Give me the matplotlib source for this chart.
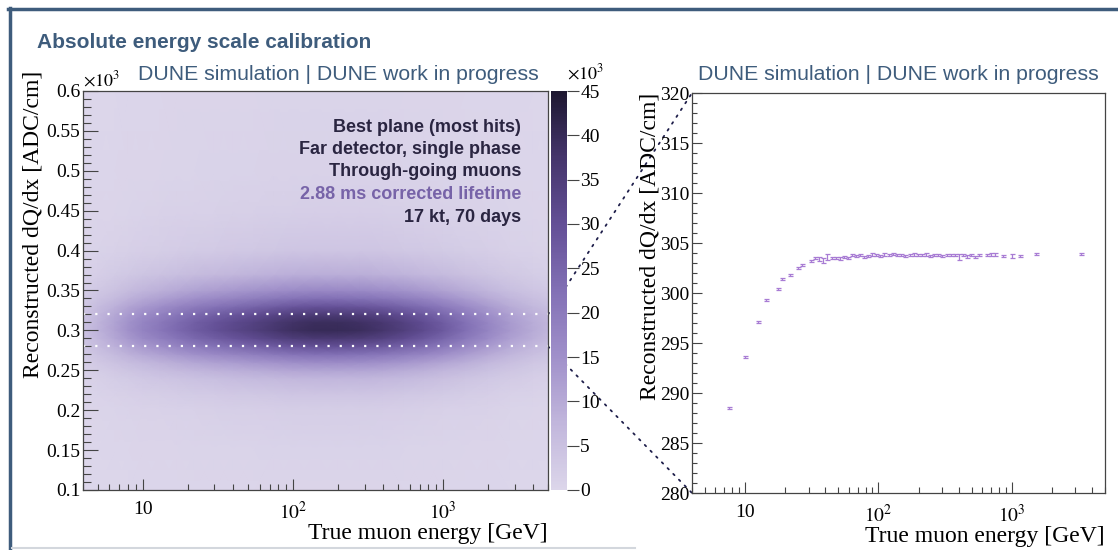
import numpy as np
import matplotlib
matplotlib.use('Agg')
import matplotlib.pyplot as plt
from matplotlib.colors import LinearSegmentedColormap
from matplotlib.patches import ConnectionPatch
from matplotlib.lines import Line2D
from matplotlib import ticker

plt.rcParams['font.family'] = ['Liberation Serif', 'DejaVu Serif']
plt.rcParams['mathtext.fontset'] = 'stix'

# left panel: 2D histogram, read as energy and dQ/dx shapes
energy_nodes = [4, 5, 6.5, 8, 10, 13, 17, 22, 30, 40, 55, 75, 100, 140, 200,
                280, 400, 550, 750, 1000, 1400, 2000, 2800, 4000, 5000]
energy_weight = [0.12, 0.20, 0.29, 0.37, 0.45, 0.52, 0.60, 0.67, 0.74, 0.80,
                 0.86, 0.92, 0.97, 1.00, 1.00, 0.98, 0.93, 0.86, 0.78, 0.69,
                 0.57, 0.44, 0.33, 0.24, 0.19]
dqdx_nodes = [0.10, 0.15, 0.20, 0.22, 0.24, 0.25, 0.26, 0.27, 0.28, 0.29, 0.30,
              0.31, 0.32, 0.33, 0.34, 0.35, 0.37, 0.40, 0.45, 0.50, 0.60]
dqdx_weight = [0.01, 0.02, 0.05, 0.10, 0.19, 0.28, 0.40, 0.56, 0.74, 0.90, 1.00,
               0.98, 0.88, 0.73, 0.56, 0.42, 0.23, 0.10, 0.045, 0.025, 0.015]
peak_count = 40.0  # x10^3
cbar_ticks = [0, 5, 10, 15, 20, 25, 30, 35, 40, 45]

# right panel: mean dQ/dx per energy bin
prof_energy = [7.55, 10.0, 12.4, 14.3, 17.6, 19.0, 21.8, 25.0, 26.8, 31.0,
               33.4, 35.8, 38.4, 41.4, 44.6, 47.8, 51.5, 55.1, 59.0, 63.6,
               68.1, 73.1, 78.3, 83.8, 89.8, 96.3, 103.6, 110.9, 119.4, 127.9,
               137.9, 148.5, 159.1, 171.1, 183.3, 196.4, 211.4, 226.5, 243.7, 261.1,
               280.7, 300.9, 324.0, 348.2, 373.2, 400.0, 430.3, 463.6, 496.7, 534.3,
               572.5, 652.4, 699.3, 749.5, 860.4, 1000.0, 1146.0, 1508.0, 3327.0]
prof_dqdx = [288.5, 293.6, 297.1, 299.3, 300.4, 301.4, 301.8, 302.5, 302.8, 303.2,
             303.5, 303.4, 303.3, 303.6, 303.5, 303.5, 303.5, 303.6, 303.5, 303.8,
             303.7, 303.8, 303.6, 303.7, 303.9, 303.8, 303.7, 303.9, 303.8, 303.9,
             303.8, 303.8, 303.7, 303.8, 303.9, 303.8, 303.8, 303.9, 303.7, 303.8,
             303.8, 303.7, 303.8, 303.8, 303.8, 303.6, 303.8, 303.7, 303.8, 303.6,
             303.8, 303.8, 303.9, 303.9, 303.7, 303.7, 303.7, 303.9, 303.9]
prof_err = [0.08, 0.10, 0.12, 0.12, 0.12, 0.12, 0.10, 0.12, 0.12, 0.12,
            0.12, 0.20, 0.25, 0.30, 0.12, 0.12, 0.15, 0.12, 0.12, 0.12,
            0.12, 0.15, 0.12, 0.12, 0.15, 0.12, 0.12, 0.15, 0.12, 0.12,
            0.12, 0.12, 0.12, 0.12, 0.15, 0.12, 0.12, 0.15, 0.12, 0.12,
            0.15, 0.12, 0.15, 0.12, 0.15, 0.30, 0.12, 0.15, 0.12, 0.15,
            0.12, 0.12, 0.15, 0.15, 0.12, 0.20, 0.12, 0.12, 0.12]

W, H = 1118, 550
fig = plt.figure(figsize=(W / 100, H / 100), dpi=100)


def fbox(x0, y0, x1, y1):
    # pixel box (top-left origin) -> figure fraction
    return [x0 / W, 1 - y1 / H, (x1 - x0) / W, (y1 - y0) / H]


ax1 = fig.add_axes(fbox(83, 91, 548, 490))
cax = fig.add_axes(fbox(551, 91, 567, 490))
ax2 = fig.add_axes(fbox(692, 93, 1105, 493))

cmap = LinearSegmentedColormap.from_list(
    'lav', ['#DCD6EA', '#C1B6DC', '#A090CA', '#8270B5', '#634F96', '#45356C', '#1D1730'])

# heatmap
X, Y = np.meshgrid(energy_nodes, dqdx_nodes)
Z = peak_count * np.outer(dqdx_weight, energy_weight)
pcm = ax1.pcolormesh(X, Y, Z, shading='gouraud', cmap=cmap, vmin=0, vmax=45, rasterized=True)
ax1.set_xscale('log')
ax1.set_xlim(4, 5000)
ax1.set_ylim(0.1, 0.6)
for yv in (0.32, 0.28):
    ax1.axhline(yv, color='white', lw=1.6, ls=(0, (1, 4.5)))

lab_kw = dict(fontsize=17)
dark = '#444444'


def style_axes(ax, ylen):
    for s in ax.spines.values():
        s.set_color(dark)
        s.set_linewidth(0.9)
    ax.tick_params(axis='both', which='both', direction='in', top=False, right=False,
                   colors=dark, labelcolor='black', labelsize=14, width=0.8)
    ax.tick_params(axis='y', which='major', length=ylen, pad=2)
    ax.tick_params(axis='y', which='minor', length=ylen * 0.5)
    ax.tick_params(axis='x', which='major', length=8, pad=8)
    ax.tick_params(axis='x', which='minor', length=4.5)
    ax.xaxis.set_major_locator(ticker.FixedLocator([10, 100, 1000]))
    ax.xaxis.set_major_formatter(ticker.FixedFormatter(['10', r'$10^{2}$', r'$10^{3}$']))
    ax.xaxis.set_minor_locator(ticker.LogLocator(base=10, subs=np.arange(2, 10), numticks=20))
    ax.xaxis.set_minor_formatter(ticker.NullFormatter())


style_axes(ax1, 11)
ax1.yaxis.set_major_locator(ticker.MultipleLocator(0.05))
ax1.yaxis.set_minor_locator(ticker.MultipleLocator(0.01))
ax1.yaxis.set_major_formatter(ticker.FuncFormatter(lambda v, p: '%g' % round(v, 3)))
ax1.set_xlabel('True muon energy [GeV]', loc='right', **lab_kw)
ax1.xaxis.set_label_coords(1.0, -0.083)
ax1.set_ylabel('Reconstructed dQ/dx [ADC/cm]', loc='top', **lab_kw)
ax1.yaxis.set_label_coords(-0.108, 1.05)
ax1.yaxis.label.set_va('center')
ax1.text(0.0, 1.003, r'$\times10^{3}$', transform=ax1.transAxes, fontsize=13, va='bottom', ha='left')

# colorbar
cb = fig.colorbar(pcm, cax=cax, ticks=cbar_ticks)
cb.outline.set_visible(False)
cax.tick_params(direction='out', length=8.5, width=0.8, colors=dark, labelcolor='black', labelsize=14, pad=1)
cax.text(1.0, 1.02, r'$\times10^{3}$', transform=cax.transAxes, fontsize=13, va='bottom', ha='left')

# right panel
ax2.errorbar(prof_energy, prof_dqdx, yerr=prof_err, fmt='none', ecolor='#A87CD4',
             elinewidth=0.9, capsize=1.8, capthick=0.9)
ax2.set_xscale('log')
ax2.set_xlim(4, 5000)
ax2.set_ylim(280, 320)
style_axes(ax2, 7.5)
ax2.yaxis.set_major_locator(ticker.MultipleLocator(5))
ax2.yaxis.set_minor_locator(ticker.MultipleLocator(1))
ax2.set_xlabel('True muon energy [GeV]', loc='right', **lab_kw)
ax2.xaxis.set_label_coords(1.0, -0.082)
ax2.set_ylabel('Reconstructed dQ/dx [ADC/cm]', loc='top', **lab_kw)
ax2.yaxis.set_label_coords(-0.102, 1.0)
ax2.yaxis.label.set_va('center')

# zoom connectors
for ya, yb in ((0.32, 320), (0.28, 280)):
    con = ConnectionPatch(xyA=(5000, ya), coordsA=ax1.transData,
                          xyB=(4, yb), coordsB=ax2.transData,
                          color='#1E1E4A', lw=1.3, ls=(0, (1, 3.5)), zorder=-1)
    fig.add_artist(con)

# text block
info = [('Best plane (most hits)', '#2A2541'),
        ('Far detector, single phase', '#2A2541'),
        ('Through-going muons', '#2A2541'),
        ('2.88 ms corrected lifetime', '#7763A8'),
        ('17 kt, 70 days', '#2A2541')]
for i, (txt, col) in enumerate(info):
    fig.text(521 / W, 1 - (127 + 22.5 * i) / H, txt, ha='right', va='center', color=col,
             fontsize=13, fontweight='bold', family='Liberation Sans')

# slide furniture
head = '#3E5C7C'
fig.text(37 / W, 1 - 42 / H, 'Absolute energy scale calibration', ha='left', va='center',
         color=head, fontsize=15, fontweight='bold', family='Liberation Sans')
fig.text(338 / W, 1 - 75 / H, 'DUNE simulation | DUNE work in progress', ha='center',
         va='center', color=head, fontsize=15.3, family='Liberation Sans')
fig.text(898 / W, 1 - 75 / H, 'DUNE simulation | DUNE work in progress', ha='center',
         va='center', color=head, fontsize=15.3, family='Liberation Sans')
fig.add_artist(Line2D([8 / W, 1], [1 - 9 / H, 1 - 9 / H], color=head, lw=2.5))
fig.add_artist(Line2D([9.5 / W, 9.5 / W], [0, 1 - 8 / H], color=head, lw=2.5))
fig.add_artist(Line2D([12 / W, 635 / W], [1 - 548 / H, 1 - 548 / H], color='#D3D7DD', lw=1.5))

fig.savefig('out.png', dpi=100)
